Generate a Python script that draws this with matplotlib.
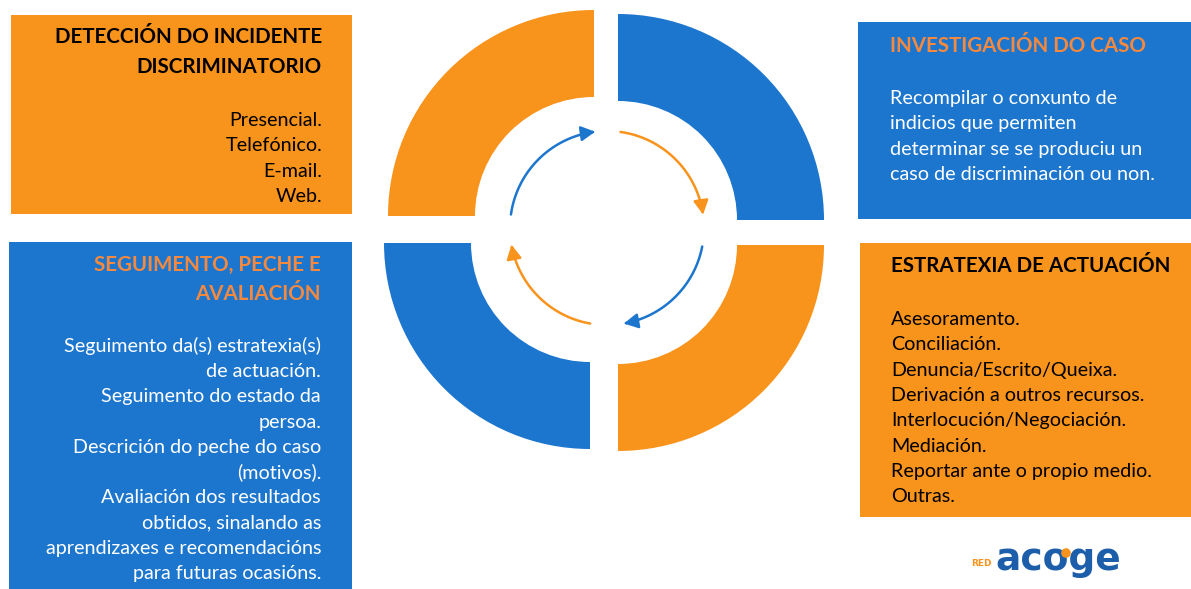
import numpy as np
import matplotlib.pyplot as plt
from matplotlib.patches import Wedge, Rectangle, FancyArrowPatch, Circle
from matplotlib.path import Path

W, H = 1191, 589
ORANGE = '#F8931C'
BLUE = '#1D76CE'
TITLE_ORANGE = '#F6893D'
LOGO_BLUE = '#1C5EA9'
FONT = 'Lato'

# texts of the four boxes
tl_title = ['DETECCIÓN DO INCIDENTE', 'DISCRIMINATORIO']
tl_body = ['Presencial.', 'Telefónico.', 'E-mail.', 'Web.']
tr_title = ['INVESTIGACIÓN DO CASO']
tr_body = ['Recompilar o conxunto de', 'indicios que permiten',
           'determinar se se produciu un', 'caso de discriminación ou non.']
bl_title = ['SEGUIMENTO, PECHE E', 'AVALIACIÓN']
bl_body = ['Seguimento da(s) estratexia(s)', 'de actuación.',
           'Seguimento do estado da', 'persoa.',
           'Descrición do peche do caso', '(motivos).',
           'Avaliación dos resultados', 'obtidos, sinalando as',
           'aprendizaxes e recomendacións', 'para futuras ocasións.']
br_title = ['ESTRATEXIA DE ACTUACIÓN']
br_body = ['Asesoramento.', 'Conciliación.', 'Denuncia/Escrito/Queixa.',
           'Derivación a outros recursos.', 'Interlocución/Negociación.',
           'Mediación.', 'Reportar ante o propio medio.', 'Outras.']

fig = plt.figure(figsize=(W / 100, H / 100), dpi=100)
ax = fig.add_axes([0, 0, 1, 1])
ax.set_xlim(0, W)
ax.set_ylim(H, 0)
ax.set_aspect('equal')
ax.axis('off')

# ring quadrants (y axis inverted: 180-270 is the top-left on screen)
r_out, r_in = 206, 119
quads = [((594, 216), 180, 270, ORANGE),
         ((618, 220), 270, 360, BLUE),
         ((618, 245), 0, 90, ORANGE),
         ((590, 243), 90, 180, BLUE)]
for (cx, cy), t1, t2, col in quads:
    ax.add_patch(Wedge((cx, cy), r_out, t1, t2, width=r_out - r_in,
                       facecolor=col, edgecolor='none'))

# circular arrows inside the ring
acx, acy, ar = 607, 228, 97
arcs = [(172, 97, BLUE), (82, 8, ORANGE), (-11, -80, BLUE), (-100, -170, ORANGE)]
for a1, a2, col in arcs:
    t = np.radians(np.linspace(a1, a2, 60))
    verts = np.column_stack([acx + ar * np.cos(t), acy - ar * np.sin(t)])
    ax.add_patch(FancyArrowPatch(path=Path(verts), arrowstyle='-|>,head_length=0.6,head_width=0.32',
                                 mutation_scale=14, color=col, lw=1.8,
                                 shrinkA=0, shrinkB=0))

# boxes
boxes = [(11, 15, 341, 199, ORANGE),
         (858, 22, 333, 197, BLUE),
         (9, 242, 343, 347, BLUE),
         (860, 243, 331, 274, ORANGE)]
for x, y, w, h, col in boxes:
    ax.add_patch(Rectangle((x, y), w, h, facecolor=col, edgecolor='none'))

FS = 14.2
TFS = 14.8
LS = 25.3


def block(x, y0, lines, ha, color, bold=False, step=LS):
    for i, s in enumerate(lines):
        ax.text(x, y0 + i * step, s, ha=ha, va='baseline', color=color,
                fontsize=TFS if bold else FS, fontfamily=FONT,
                fontweight='bold' if bold else 'normal')


block(322, 43, tl_title, 'right', 'black', bold=True, step=30)
block(322, 126, tl_body, 'right', 'black')
block(890, 52, tr_title, 'left', TITLE_ORANGE, bold=True)
block(890, 104, tr_body, 'left', 'white')
block(321, 271, bl_title, 'right', TITLE_ORANGE, bold=True, step=29)
block(321, 352, bl_body, 'right', 'white', step=25.2)
block(891, 272, br_title, 'left', 'black', bold=True)
block(891, 325, br_body, 'left', 'black')

# logo
ax.text(992, 566, 'RED', ha='right', va='baseline', color=ORANGE,
        fontsize=6.5, fontweight='bold', fontfamily='DejaVu Sans')
ax.text(995, 570, 'acoge', ha='left', va='baseline', color=LOGO_BLUE,
        fontsize=27, fontweight='bold', fontfamily='DejaVu Sans')
ax.add_patch(Circle((1066, 553), 4.8, facecolor=ORANGE, edgecolor='none', zorder=5))

fig.savefig('out.png', dpi=100, facecolor='white')
